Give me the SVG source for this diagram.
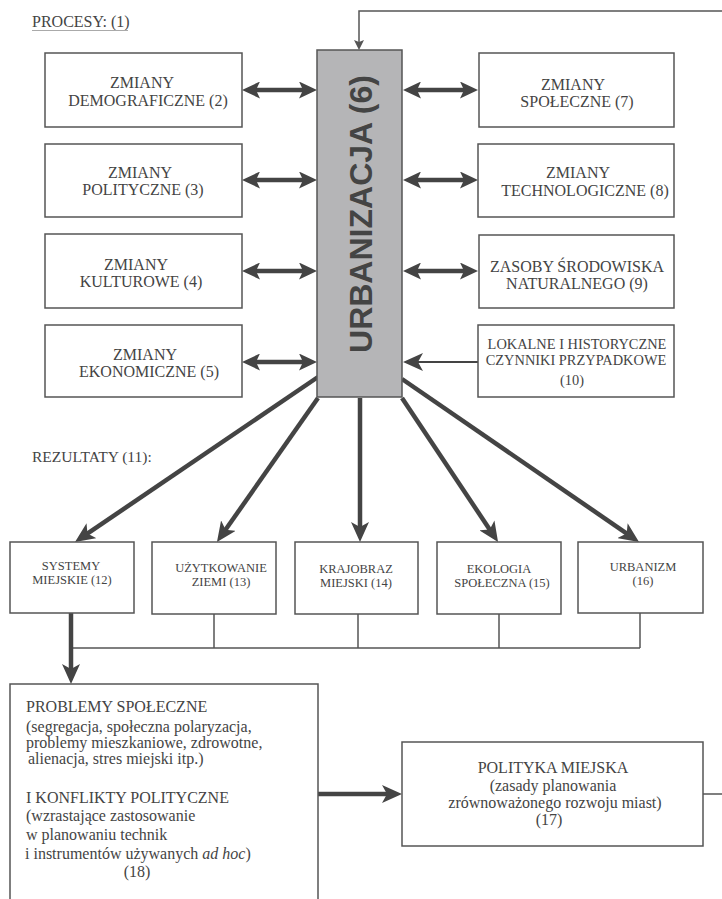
<svg xmlns="http://www.w3.org/2000/svg" width="722" height="899" viewBox="0 0 722 899">
<style>
.box{fill:#fff;stroke:#555;stroke-width:1.5}
.core{fill:#b5b5b7;stroke:#555;stroke-width:1.5}
.t{font-family:"Liberation Serif","Times New Roman",serif;fill:#444;font-size:16px;text-anchor:middle}
.s{font-size:12.5px}
.m{font-size:14.4px}
.l{text-anchor:start}
.thick{stroke:#444;stroke-width:4.5;fill:none}
.thin{stroke:#555;stroke-width:1.5;fill:none}
</style>
<defs>
<marker id="ah" viewBox="0 0 20 18" refX="10" refY="9" markerWidth="20" markerHeight="18" markerUnits="userSpaceOnUse" orient="auto-start-reverse"><path d="M0,0 L20,9 L0,18 L5,9 z" fill="#444"/></marker>
<marker id="ah2" viewBox="0 0 18 17" refX="9" refY="8.5" markerWidth="18" markerHeight="17" markerUnits="userSpaceOnUse" orient="auto-start-reverse"><path d="M0,0 L18,8.5 L0,17 L4,8.5 z" fill="#444"/></marker>
<marker id="ahs" viewBox="0 0 10 10" refX="5" refY="5" markerWidth="10" markerHeight="10" markerUnits="userSpaceOnUse" orient="auto"><path d="M0,0 L10,5 L0,10 L2,5 z" fill="#555"/></marker>
</defs>

<g id="labels">
<text class="t l" x="32" y="27">PROCESY: (1)</text>
<line x1="32" y1="30.5" x2="128" y2="30.5" stroke="#aaa" stroke-width="1"/>
<text class="t l" x="32" y="462" style="font-size:15.5px">REZULTATY (11):</text>
</g>

<g id="connectors">
<polyline class="thin" points="722,11 359,11 359,45" marker-end="url(#ahs)"/>
<line class="thick" x1="251" y1="90" x2="308" y2="90" marker-start="url(#ah2)" marker-end="url(#ah2)"/>
<line class="thick" x1="251" y1="180" x2="308" y2="180" marker-start="url(#ah2)" marker-end="url(#ah2)"/>
<line class="thick" x1="251" y1="271" x2="308" y2="271" marker-start="url(#ah2)" marker-end="url(#ah2)"/>
<line class="thick" x1="251" y1="362" x2="308" y2="362" marker-start="url(#ah2)" marker-end="url(#ah2)"/>
<line class="thick" x1="412" y1="90" x2="469" y2="90" marker-start="url(#ah2)" marker-end="url(#ah2)"/>
<line class="thick" x1="412" y1="180" x2="469" y2="180" marker-start="url(#ah2)" marker-end="url(#ah2)"/>
<line class="thick" x1="412" y1="271" x2="469" y2="271" marker-start="url(#ah2)" marker-end="url(#ah2)"/>
<line stroke="#444" stroke-width="2" x1="478" y1="362" x2="413" y2="362" marker-end="url(#ah)"/>
<line class="thick" x1="318" y1="377" x2="83.3" y2="536.4" marker-end="url(#ah)"/>
<line class="thick" x1="318" y1="398" x2="222.7" y2="533.8" marker-end="url(#ah)"/>
<line class="thick" x1="360" y1="398" x2="360" y2="532" marker-end="url(#ah)"/>
<line class="thick" x1="402" y1="398" x2="492.5" y2="533.7" marker-end="url(#ah)"/>
<line class="thick" x1="402" y1="379" x2="630.8" y2="536.3" marker-end="url(#ah)"/>
<path class="thin" d="M214,614 V648 M358,614 V648 M499,614 V648 M640,613 V648 M71,648 H640"/>
<line class="thick" x1="71" y1="613" x2="71" y2="674" marker-end="url(#ah)"/>
<line class="thick" x1="318" y1="794" x2="392" y2="794" marker-end="url(#ah)"/>
<line class="thin" x1="703" y1="794" x2="722" y2="794"/>
</g>

<g id="n6">
<rect class="core" x="317" y="50" width="85" height="347"/>
<text transform="translate(372,214) rotate(-90)" text-anchor="middle" style="font-family:'Liberation Sans',Arial,sans-serif;font-weight:bold;font-size:32px;fill:#444">URBANIZACJA (6)</text>
</g>

<g id="n2">
<rect class="box" x="45" y="53" width="197" height="74"/>
<text class="t" x="142" y="88">ZMIANY</text>
<text class="t" x="148" y="106">DEMOGRAFICZNE (2)</text>
</g>
<g id="n3">
<rect class="box" x="45" y="144" width="197" height="73"/>
<text class="t" x="140" y="178">ZMIANY</text>
<text class="t" x="143" y="195">POLITYCZNE (3)</text>
</g>
<g id="n4">
<rect class="box" x="45" y="234" width="197" height="74"/>
<text class="t" x="136" y="270">ZMIANY</text>
<text class="t" x="141" y="287">KULTUROWE (4)</text>
</g>
<g id="n5">
<rect class="box" x="45" y="325" width="197" height="72"/>
<text class="t" x="145" y="360">ZMIANY</text>
<text class="t" x="149" y="377">EKONOMICZNE (5)</text>
</g>

<g id="n7">
<rect class="box" x="479" y="53" width="195" height="74"/>
<text class="t" x="573" y="90">ZMIANY</text>
<text class="t" x="577" y="107">SPOŁECZNE (7)</text>
</g>
<g id="n8">
<rect class="box" x="478" y="144" width="196" height="73"/>
<text class="t" x="578" y="178">ZMIANY</text>
<text class="t" x="585" y="196">TECHNOLOGICZNE (8)</text>
</g>
<g id="n9">
<rect class="box" x="479" y="235" width="195" height="73"/>
<text class="t" x="577" y="272">ZASOBY ŚRODOWISKA</text>
<text class="t" x="577" y="289">NATURALNEGO (9)</text>
</g>
<g id="n10">
<rect class="box" x="478" y="325" width="196" height="72"/>
<text class="t m" x="577" y="349">LOKALNE I HISTORYCZNE</text>
<text class="t m" x="576" y="365">CZYNNIKI PRZYPADKOWE</text>
<text class="t m" x="572" y="385">(10)</text>
</g>

<g id="n12">
<rect class="box" x="10" y="542" width="124" height="71"/>
<text class="t s" x="71" y="570">SYSTEMY</text>
<text class="t s" x="72" y="584">MIEJSKIE (12)</text>
</g>
<g id="n13">
<rect class="box" x="152" y="542" width="124" height="72"/>
<text class="t s" x="221" y="572">UŻYTKOWANIE</text>
<text class="t s" x="221" y="586">ZIEMI (13)</text>
</g>
<g id="n14">
<rect class="box" x="295" y="542" width="123" height="72"/>
<text class="t s" x="356" y="573">KRAJOBRAZ</text>
<text class="t s" x="356" y="587">MIEJSKI (14)</text>
</g>
<g id="n15">
<rect class="box" x="437" y="542" width="124" height="72"/>
<text class="t s" x="499" y="573">EKOLOGIA</text>
<text class="t s" x="502" y="587">SPOŁECZNA (15)</text>
</g>
<g id="n16">
<rect class="box" x="578" y="542" width="125" height="71"/>
<text class="t s" x="643" y="571">URBANIZM</text>
<text class="t s" x="643" y="585">(16)</text>
</g>

<g id="n18">
<rect class="box" x="10" y="684" width="308" height="230"/>
<text class="t l" x="26" y="712">PROBLEMY SPOŁECZNE</text>
<text class="t l" x="26" y="732">(segregacja, społeczna polaryzacja,</text>
<text class="t l" x="26" y="748">problemy mieszkaniowe, zdrowotne,</text>
<text class="t l" x="28" y="764">alienacja, stres miejski itp.)</text>
<text class="t l" x="26" y="803">I KONFLIKTY POLITYCZNE</text>
<text class="t l" x="26" y="821">(wzrastające zastosowanie</text>
<text class="t l" x="26" y="840">w planowaniu technik</text>
<text class="t l" x="25" y="859">i instrumentów używanych <tspan font-style="italic">ad hoc</tspan>)</text>
<text class="t" x="137" y="877">(18)</text>
</g>

<g id="n17">
<rect class="box" x="402" y="742" width="301" height="104"/>
<text class="t" x="553" y="773">POLITYKA MIEJSKA</text>
<text class="t" x="553" y="791">(zasady planowania</text>
<text class="t" x="555" y="808">zrównoważonego rozwoju miast)</text>
<text class="t" x="549" y="825">(17)</text>
</g>
</svg>
